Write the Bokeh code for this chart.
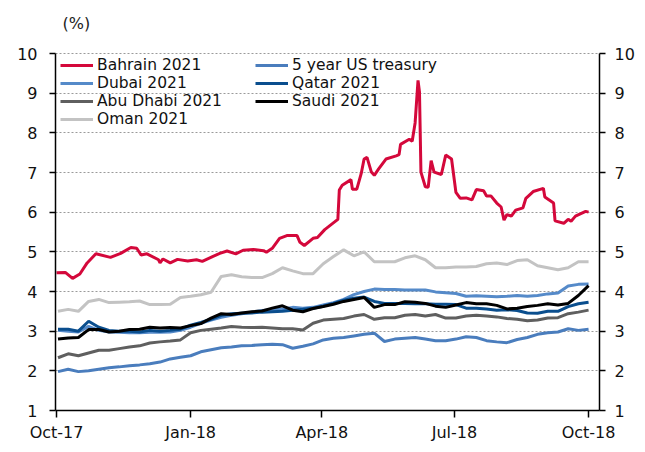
import pandas as pd
from bokeh.plotting import figure
from bokeh.models import LinearAxis, Range1d, FixedTicker, Legend, LegendItem, Label
from bokeh.embed import file_html
from bokeh.resources import INLINE

# ---------------- data ----------------
weekly_dates = pd.date_range("2017-10-02", periods=53, freq="7D")

bahrain_dates = [
    "2017-10-01", "2017-10-07", "2017-10-12", "2017-10-17", "2017-10-22", "2017-10-28",
    "2017-11-07", "2017-11-14", "2017-11-21", "2017-11-25", "2017-11-28", "2017-12-02",
    "2017-12-10", "2017-12-11", "2017-12-13", "2017-12-18", "2017-12-23", "2017-12-30",
    "2018-01-05", "2018-01-09", "2018-01-16", "2018-01-21", "2018-01-26", "2018-02-01",
    "2018-02-06", "2018-02-13", "2018-02-20", "2018-02-22", "2018-02-26", "2018-03-03",
    "2018-03-08", "2018-03-15", "2018-03-17", "2018-03-20", "2018-03-26", "2018-03-29",
    "2018-04-03", "2018-04-10", "2018-04-12", "2018-04-13", "2018-04-15", "2018-04-21",
    "2018-04-22", "2018-04-25", "2018-04-28", "2018-04-30", "2018-05-02", "2018-05-05",
    "2018-05-07", "2018-05-10", "2018-05-15", "2018-05-22", "2018-05-24", "2018-05-25",
    "2018-05-31", "2018-06-02", "2018-06-04", "2018-06-06", "2018-06-07", "2018-06-08",
    "2018-06-11", "2018-06-13", "2018-06-15", "2018-06-17", "2018-06-22", "2018-06-25",
    "2018-06-29", "2018-07-02", "2018-07-05", "2018-07-09", "2018-07-13", "2018-07-16",
    "2018-07-21", "2018-07-23", "2018-07-26", "2018-07-30", "2018-08-02", "2018-08-04",
    "2018-08-06", "2018-08-09", "2018-08-12", "2018-08-17", "2018-08-19", "2018-08-24",
    "2018-08-31", "2018-09-01", "2018-09-07", "2018-09-08", "2018-09-14", "2018-09-17",
    "2018-09-19", "2018-09-22", "2018-09-29", "2018-10-01",
]
bahrain = [
    4.47, 4.48, 4.33, 4.44, 4.72, 4.95,
    4.86, 4.96, 5.11, 5.09, 4.92, 4.95,
    4.80, 4.72, 4.82, 4.72, 4.81, 4.77,
    4.80, 4.76, 4.88, 4.96, 5.02, 4.95,
    5.04, 5.06, 5.03, 4.99, 5.09, 5.34,
    5.41, 5.41, 5.24, 5.16, 5.34, 5.36,
    5.56, 5.76, 5.82, 6.56, 6.68, 6.82,
    6.58, 6.58, 6.97, 7.34, 7.38, 7.01,
    6.93, 7.09, 7.34, 7.42, 7.45, 7.71,
    7.84, 7.79, 8.25, 9.32, 9.03, 7.01,
    6.64, 6.63, 7.30, 7.01, 6.95, 7.44,
    7.34, 6.50, 6.35, 6.36, 6.31, 6.57,
    6.54, 6.41, 6.41, 6.23, 6.13, 5.80,
    5.94, 5.90, 6.05, 6.11, 6.35, 6.52,
    6.60, 6.38, 6.23, 5.78, 5.72, 5.82,
    5.77, 5.90, 6.02, 6.00,
]

us_5y = [1.98, 2.04, 1.98, 2.00, 2.04, 2.08, 2.10, 2.13, 2.15, 2.18,
         2.22, 2.30, 2.34, 2.38, 2.48, 2.53, 2.58, 2.60, 2.63, 2.64,
         2.66, 2.67, 2.66, 2.57, 2.62, 2.68, 2.78, 2.82, 2.84, 2.88,
         2.92, 2.95, 2.74, 2.80, 2.82, 2.84, 2.80, 2.76, 2.76, 2.80,
         2.86, 2.84, 2.76, 2.73, 2.71, 2.79, 2.84, 2.92, 2.96, 2.98,
         3.06, 3.02, 3.05]
dubai = [3.02, 3.00, 2.98, 3.12, 3.02, 2.98, 2.97, 2.96, 2.96, 2.97,
         2.97, 2.98, 3.02, 3.10, 3.20, 3.28, 3.35, 3.40, 3.44, 3.48,
         3.52, 3.54, 3.56, 3.60, 3.58, 3.60, 3.66, 3.72, 3.80, 3.92,
         4.00, 4.06, 4.05, 4.05, 4.04, 4.04, 4.04, 3.99, 3.97, 3.95,
         3.88, 3.89, 3.88, 3.87, 3.88, 3.90, 3.88, 3.90, 3.94, 3.96,
         4.14, 4.18, 4.19]
qatar = [3.05, 3.05, 3.00, 3.25, 3.10, 3.02, 3.00, 3.00, 2.98, 3.02,
         3.00, 3.02, 3.05, 3.15, 3.22, 3.30, 3.40, 3.44, 3.45, 3.46,
         3.48, 3.49, 3.50, 3.53, 3.55, 3.58, 3.63, 3.70, 3.78, 3.83,
         3.86, 3.75, 3.70, 3.70, 3.70, 3.69, 3.69, 3.68, 3.68, 3.67,
         3.58, 3.58, 3.56, 3.53, 3.54, 3.52, 3.46, 3.45, 3.50, 3.50,
         3.62, 3.69, 3.73]
abu_dhabi = [2.33, 2.43, 2.38, 2.45, 2.52, 2.52, 2.56, 2.60, 2.63, 2.70,
             2.73, 2.75, 2.78, 2.96, 3.02, 3.05, 3.08, 3.12, 3.10, 3.09,
             3.10, 3.08, 3.06, 3.06, 3.03, 3.20, 3.28, 3.30, 3.32, 3.38,
             3.42, 3.30, 3.34, 3.34, 3.40, 3.42, 3.38, 3.42, 3.33, 3.33,
             3.38, 3.40, 3.38, 3.36, 3.32, 3.30, 3.26, 3.28, 3.33, 3.34,
             3.44, 3.48, 3.53]
saudi = [2.80, 2.83, 2.84, 3.04, 3.04, 2.98, 3.00, 3.04, 3.05, 3.10,
         3.08, 3.09, 3.08, 3.14, 3.19, 3.33, 3.44, 3.42, 3.46, 3.49,
         3.51, 3.58, 3.64, 3.53, 3.49, 3.57, 3.62, 3.68, 3.75, 3.80,
         3.85, 3.60, 3.67, 3.67, 3.74, 3.73, 3.70, 3.63, 3.60, 3.66,
         3.72, 3.69, 3.69, 3.65, 3.56, 3.58, 3.62, 3.65, 3.69, 3.66,
         3.70, 3.90, 4.15]
oman = [3.50, 3.55, 3.50, 3.75, 3.80, 3.72, 3.73, 3.74, 3.76, 3.67,
        3.67, 3.68, 3.85, 3.88, 3.92, 3.98, 4.38, 4.42, 4.37, 4.35,
        4.35, 4.45, 4.60, 4.52, 4.45, 4.45, 4.70, 4.88, 5.05, 4.90,
        5.00, 4.75, 4.75, 4.75, 4.85, 4.90, 4.80, 4.60, 4.60, 4.62,
        4.62, 4.63, 4.70, 4.72, 4.68, 4.78, 4.80, 4.65, 4.60, 4.55,
        4.60, 4.75, 4.75]

x_tick_dates = ["2017-10-01", "2018-01-01", "2018-04-01", "2018-07-01", "2018-10-01"]
x_tick_labels = ["Oct-17", "Jan-18", "Apr-18", "Jul-18", "Oct-18"]
y_ticks = [1, 2, 3, 4, 5, 6, 7, 8, 9, 10]
unit_label = "(%)"

# ---------------- figure ----------------
FONT = "DejaVu Sans"
W_FIG, H_FIG = 637, 444
B_LEFT, B_RIGHT, B_BOTTOM = 55, 36, 34
TOP_PAD = 53                      # canvas top -> value 10
FRAME_H = H_FIG - B_BOTTOM        # frame spans from canvas top to bottom border
Y_MIN, Y_MAX = y_ticks[0], y_ticks[-1]
px_per_unit = (FRAME_H - TOP_PAD) / (Y_MAX - Y_MIN)
y_end = Y_MAX + TOP_PAD / px_per_unit

p = figure(width=W_FIG, height=H_FIG, x_axis_type="datetime",
           x_range=Range1d(pd.Timestamp("2017-09-30 07:00"), pd.Timestamp("2018-10-08 12:00")),
           y_range=Range1d(Y_MIN, y_end),
           output_backend="svg", toolbar_location=None,
           min_border_left=B_LEFT, min_border_right=B_RIGHT,
           min_border_top=0, min_border_bottom=B_BOTTOM)
p.outline_line_color = None
p.background_fill_color = "white"
p.border_fill_color = "white"

p.add_layout(Label(x=7, y=FRAME_H - 23, x_units="screen", y_units="screen",
                   text=unit_label, text_font=FONT, text_font_size="16px",
                   text_color="#222222", text_baseline="middle", text_align="left"))

tick_ms = [int(pd.Timestamp(d).value // 10**6) for d in x_tick_dates]
xa = p.xaxis[0]
xa.ticker = FixedTicker(ticks=tick_ms)
xa.major_label_overrides = {t: lab for t, lab in zip(tick_ms, x_tick_labels)}
xa.major_tick_out = 7
xa.major_tick_in = 0
xa.major_label_standoff = 5

ya = p.yaxis[0]
ya.ticker = FixedTicker(ticks=y_ticks)
ra = LinearAxis(ticker=FixedTicker(ticks=y_ticks))
p.add_layout(ra, "right")

for ax in (xa, ya, ra):
    ax.axis_line_color = "black"
    ax.axis_line_width = 1.5
    ax.major_tick_line_color = "black"
    ax.major_tick_line_width = 1.5
    ax.minor_tick_line_color = None
    ax.major_label_text_font = FONT
    ax.major_label_text_font_size = "16px"
    ax.major_label_text_color = "#111111"
for ax in (ya, ra):
    ax.bounds = (Y_MIN, Y_MAX)
    ax.major_tick_out = 6
    ax.major_tick_in = 0
ya.major_label_standoff = 12
ra.major_label_standoff = 9

p.xgrid.visible = False
p.ygrid.ticker = FixedTicker(ticks=y_ticks)
p.ygrid.grid_line_color = "#9a9a9a"
p.ygrid.grid_line_dash = "2 2"
p.ygrid.grid_line_width = 1

bd = pd.to_datetime(bahrain_dates)
W = 3
r_oman = p.line(weekly_dates, oman, line_color="#C3C3C3", line_width=W)
r_us = p.line(weekly_dates, us_5y, line_color="#4A7DBD", line_width=W)
r_abu = p.line(weekly_dates, abu_dhabi, line_color="#5F5F5F", line_width=W)
r_dubai = p.line(weekly_dates, dubai, line_color="#558AC9", line_width=W)
r_qatar = p.line(weekly_dates, qatar, line_color="#0A4E8E", line_width=W)
r_saudi = p.line(weekly_dates, saudi, line_color="#000000", line_width=W)
r_bah = p.line(bd, bahrain, line_color="#D4083B", line_width=W)

def make_legend(items, loc):
    return Legend(items=items, location=loc, orientation="vertical",
                  border_line_color=None, background_fill_alpha=0,
                  padding=0, margin=0, spacing=0,
                  glyph_width=33, glyph_height=18, label_height=18,
                  label_standoff=4, label_text_font=FONT,
                  label_text_font_size="15.5px", label_text_color="#111111")

leg1 = make_legend([
    LegendItem(label="Bahrain 2021", renderers=[r_bah]),
    LegendItem(label="Dubai 2021", renderers=[r_dubai]),
    LegendItem(label="Abu Dhabi 2021", renderers=[r_abu]),
    LegendItem(label="Oman 2021", renderers=[r_oman]),
], (5, FRAME_H - TOP_PAD - 3 - 72))
leg2 = make_legend([
    LegendItem(label="5 year US treasury", renderers=[r_us]),
    LegendItem(label="Qatar 2021", renderers=[r_qatar]),
    LegendItem(label="Saudi 2021", renderers=[r_saudi]),
], (200, FRAME_H - TOP_PAD - 3 - 54))
p.add_layout(leg1)
p.add_layout(leg2)

open("out.html", "w").write(file_html(p, INLINE))
